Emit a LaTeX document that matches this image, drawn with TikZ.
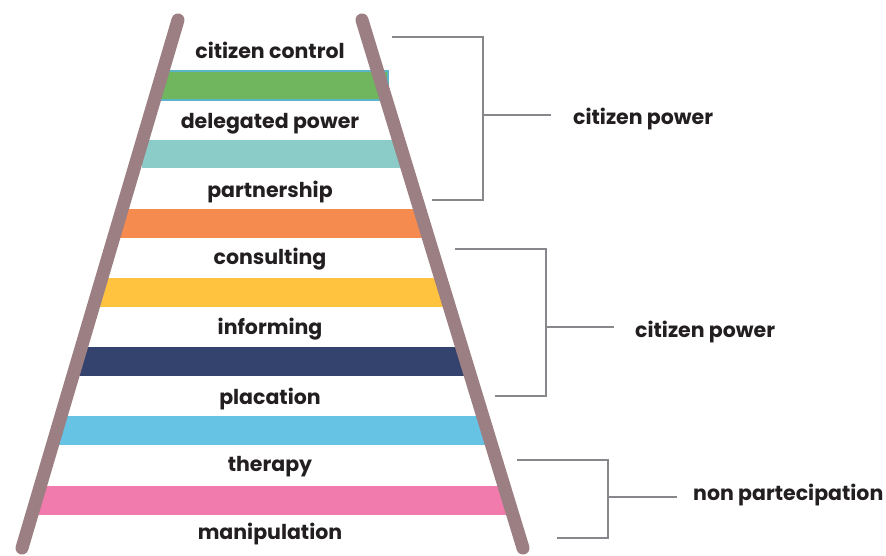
\documentclass[tikz,border=0pt]{standalone}
\usepackage{fontspec}
\setmainfont{Poppins}
\definecolor{rail}{HTML}{9B7F82}
\definecolor{rgreen}{HTML}{70B65E}
\definecolor{rgreenline}{HTML}{5BB5C8}
\definecolor{rteal}{HTML}{8CCCC8}
\definecolor{rorange}{HTML}{F68B50}
\definecolor{ryellow}{HTML}{FFC340}
\definecolor{rnavy}{HTML}{34426E}
\definecolor{rsky}{HTML}{66C3E4}
\definecolor{rpink}{HTML}{F17BAC}
\definecolor{brack}{HTML}{87878C}
\definecolor{ink}{HTML}{231F20}
\tikzset{
  rung/.style={font=\bfseries\fontsize{20.5}{24}\selectfont, text=ink, inner sep=1pt, yshift=-2pt},
  group/.style={font=\bfseries\fontsize{20.5}{24}\selectfont, text=ink, anchor=west, inner sep=0pt, yshift=-2pt},
  brace/.style={draw=brack, line width=2.5pt},
  side/.style={draw=rail, line width=13pt, line cap=round}
}
\begin{document}
\begin{tikzpicture}[x=1pt,y=-1pt]
\useasboundingbox (0,0) rectangle (886,556);

% stripes
\fill[rgreen, draw=rgreenline, line width=1.5pt] (160,71) rectangle (388,100);
\fill[rteal] (142,140) rectangle (400,168);
\fill[rorange] (118,209) rectangle (422,238);
\fill[ryellow] (98,278) rectangle (443,307);
\fill[rnavy] (78,347) rectangle (464,376);
\fill[rsky] (56,416) rectangle (486,445);
\fill[rpink] (34,486) rectangle (508,515);

% rails
\coordinate (lt) at (178,20);
\coordinate (lb) at (22,548);
\coordinate (rt) at (362,20);
\coordinate (rb) at (523,548);
\draw[side] (lt) -- (lb);
\draw[side] (rt) -- (rb);

% rungs
\node[rung] (r8) at (270,48) {citizen control};
\node[rung] (r7) at (270,122) {delegated power};
\node[rung] (r6) at (270,190) {partnership};
\node[rung] (r5) at (270,257) {consulting};
\node[rung] (r4) at (270,327) {informing};
\node[rung] (r3) at (270,397) {placation};
\node[rung] (r2) at (270,465) {therapy};
\node[rung] (r1) at (270,532) {manipulation};

% groups
\node[group] (g1) at (573,117) {citizen power};
\node[group] (g2) at (635,330) {citizen power};
\node[group] (g3) at (693,493) {non partecipation};

\coordinate (a1) at (392,37);
\coordinate (a2) at (432,200);
\coordinate (a3) at (551,115);
\draw[brace] (a1) -| (483,200) -- (a2);
\draw[brace] (483,115) -- (a3);

\coordinate (b1) at (455,249);
\coordinate (b2) at (495,396);
\coordinate (b3) at (614,327);
\draw[brace] (b1) -| (546,396) -- (b2);
\draw[brace] (546,327) -- (b3);

\coordinate (c1) at (517,460);
\coordinate (c2) at (557,538);
\coordinate (c3) at (677,497);
\draw[brace] (c1) -| (608,538) -- (c2);
\draw[brace] (608,497) -- (c3);
\end{tikzpicture}
\end{document}
